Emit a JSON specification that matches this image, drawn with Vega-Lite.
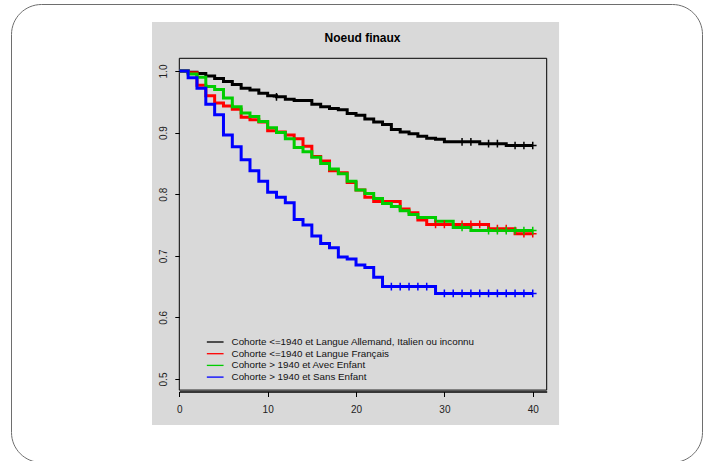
{
  "$schema": "https://vega.github.io/schema/vega-lite/v6.json",
  "width": 691,
  "height": 458,
  "autosize": {"type": "none"},
  "padding": {"left": 11, "top": 4, "right": 11, "bottom": 0},
  "background": "white",
  "config": {
    "view": {"stroke": "#6e6e6e", "strokeWidth": 1, "cornerRadius": 30, "fill": "white"},
    "font": "Liberation Sans"
  },
  "title": {
    "text": "Noeud finaux",
    "fontSize": 12,
    "fontWeight": "bold",
    "font": "Liberation Sans",
    "color": "#000000",
    "anchor": "middle",
    "frame": "group",
    "baseline": "middle",
    "offset": 0,
    "dx": 6,
    "dy": 46
  },
  "datasets": {
    "curves": [
      {"g": "Cohorte <=1940 et Langue Allemand, Italien ou inconnu", "t": 0, "s": 1.0},
      {"g": "Cohorte <=1940 et Langue Allemand, Italien ou inconnu", "t": 1, "s": 0.998},
      {"g": "Cohorte <=1940 et Langue Allemand, Italien ou inconnu", "t": 2, "s": 0.996},
      {"g": "Cohorte <=1940 et Langue Allemand, Italien ou inconnu", "t": 3, "s": 0.992},
      {"g": "Cohorte <=1940 et Langue Allemand, Italien ou inconnu", "t": 4, "s": 0.988},
      {"g": "Cohorte <=1940 et Langue Allemand, Italien ou inconnu", "t": 5, "s": 0.983},
      {"g": "Cohorte <=1940 et Langue Allemand, Italien ou inconnu", "t": 6, "s": 0.978},
      {"g": "Cohorte <=1940 et Langue Allemand, Italien ou inconnu", "t": 7, "s": 0.972},
      {"g": "Cohorte <=1940 et Langue Allemand, Italien ou inconnu", "t": 8, "s": 0.969},
      {"g": "Cohorte <=1940 et Langue Allemand, Italien ou inconnu", "t": 9, "s": 0.964},
      {"g": "Cohorte <=1940 et Langue Allemand, Italien ou inconnu", "t": 10, "s": 0.960},
      {"g": "Cohorte <=1940 et Langue Allemand, Italien ou inconnu", "t": 11, "s": 0.958},
      {"g": "Cohorte <=1940 et Langue Allemand, Italien ou inconnu", "t": 12, "s": 0.954},
      {"g": "Cohorte <=1940 et Langue Allemand, Italien ou inconnu", "t": 13, "s": 0.952},
      {"g": "Cohorte <=1940 et Langue Allemand, Italien ou inconnu", "t": 15, "s": 0.946},
      {"g": "Cohorte <=1940 et Langue Allemand, Italien ou inconnu", "t": 16, "s": 0.942},
      {"g": "Cohorte <=1940 et Langue Allemand, Italien ou inconnu", "t": 17, "s": 0.939},
      {"g": "Cohorte <=1940 et Langue Allemand, Italien ou inconnu", "t": 18, "s": 0.937},
      {"g": "Cohorte <=1940 et Langue Allemand, Italien ou inconnu", "t": 19, "s": 0.931},
      {"g": "Cohorte <=1940 et Langue Allemand, Italien ou inconnu", "t": 20, "s": 0.928},
      {"g": "Cohorte <=1940 et Langue Allemand, Italien ou inconnu", "t": 21, "s": 0.922},
      {"g": "Cohorte <=1940 et Langue Allemand, Italien ou inconnu", "t": 22, "s": 0.917},
      {"g": "Cohorte <=1940 et Langue Allemand, Italien ou inconnu", "t": 23, "s": 0.913},
      {"g": "Cohorte <=1940 et Langue Allemand, Italien ou inconnu", "t": 24, "s": 0.905},
      {"g": "Cohorte <=1940 et Langue Allemand, Italien ou inconnu", "t": 25, "s": 0.901},
      {"g": "Cohorte <=1940 et Langue Allemand, Italien ou inconnu", "t": 26, "s": 0.898},
      {"g": "Cohorte <=1940 et Langue Allemand, Italien ou inconnu", "t": 27, "s": 0.894},
      {"g": "Cohorte <=1940 et Langue Allemand, Italien ou inconnu", "t": 28, "s": 0.891},
      {"g": "Cohorte <=1940 et Langue Allemand, Italien ou inconnu", "t": 29, "s": 0.889},
      {"g": "Cohorte <=1940 et Langue Allemand, Italien ou inconnu", "t": 30, "s": 0.885},
      {"g": "Cohorte <=1940 et Langue Allemand, Italien ou inconnu", "t": 34, "s": 0.882},
      {"g": "Cohorte <=1940 et Langue Allemand, Italien ou inconnu", "t": 37, "s": 0.879},
      {"g": "Cohorte <=1940 et Langue Allemand, Italien ou inconnu", "t": 40, "s": 0.879},
      {"g": "Cohorte <=1940 et Langue Français", "t": 0, "s": 1.0},
      {"g": "Cohorte <=1940 et Langue Français", "t": 1, "s": 0.997},
      {"g": "Cohorte <=1940 et Langue Français", "t": 2, "s": 0.977},
      {"g": "Cohorte <=1940 et Langue Français", "t": 3, "s": 0.960},
      {"g": "Cohorte <=1940 et Langue Français", "t": 4, "s": 0.948},
      {"g": "Cohorte <=1940 et Langue Français", "t": 5, "s": 0.943},
      {"g": "Cohorte <=1940 et Langue Français", "t": 6, "s": 0.938},
      {"g": "Cohorte <=1940 et Langue Français", "t": 7, "s": 0.925},
      {"g": "Cohorte <=1940 et Langue Français", "t": 8, "s": 0.921},
      {"g": "Cohorte <=1940 et Langue Français", "t": 9, "s": 0.917},
      {"g": "Cohorte <=1940 et Langue Français", "t": 10, "s": 0.903},
      {"g": "Cohorte <=1940 et Langue Français", "t": 11, "s": 0.901},
      {"g": "Cohorte <=1940 et Langue Français", "t": 12, "s": 0.896},
      {"g": "Cohorte <=1940 et Langue Français", "t": 13, "s": 0.890},
      {"g": "Cohorte <=1940 et Langue Français", "t": 14, "s": 0.878},
      {"g": "Cohorte <=1940 et Langue Français", "t": 15, "s": 0.861},
      {"g": "Cohorte <=1940 et Langue Français", "t": 16, "s": 0.854},
      {"g": "Cohorte <=1940 et Langue Français", "t": 17, "s": 0.838},
      {"g": "Cohorte <=1940 et Langue Français", "t": 18, "s": 0.835},
      {"g": "Cohorte <=1940 et Langue Français", "t": 19, "s": 0.819},
      {"g": "Cohorte <=1940 et Langue Français", "t": 20, "s": 0.807},
      {"g": "Cohorte <=1940 et Langue Français", "t": 21, "s": 0.795},
      {"g": "Cohorte <=1940 et Langue Français", "t": 22, "s": 0.788},
      {"g": "Cohorte <=1940 et Langue Français", "t": 25, "s": 0.776},
      {"g": "Cohorte <=1940 et Langue Français", "t": 26, "s": 0.770},
      {"g": "Cohorte <=1940 et Langue Français", "t": 27, "s": 0.758},
      {"g": "Cohorte <=1940 et Langue Français", "t": 28, "s": 0.751},
      {"g": "Cohorte <=1940 et Langue Français", "t": 35, "s": 0.744},
      {"g": "Cohorte <=1940 et Langue Français", "t": 38, "s": 0.736},
      {"g": "Cohorte <=1940 et Langue Français", "t": 40, "s": 0.736},
      {"g": "Cohorte > 1940 et Avec Enfant", "t": 0, "s": 1.0},
      {"g": "Cohorte > 1940 et Avec Enfant", "t": 1, "s": 0.995},
      {"g": "Cohorte > 1940 et Avec Enfant", "t": 2, "s": 0.990},
      {"g": "Cohorte > 1940 et Avec Enfant", "t": 3, "s": 0.975},
      {"g": "Cohorte > 1940 et Avec Enfant", "t": 4, "s": 0.970},
      {"g": "Cohorte > 1940 et Avec Enfant", "t": 5, "s": 0.956},
      {"g": "Cohorte > 1940 et Avec Enfant", "t": 6, "s": 0.942},
      {"g": "Cohorte > 1940 et Avec Enfant", "t": 7, "s": 0.932},
      {"g": "Cohorte > 1940 et Avec Enfant", "t": 8, "s": 0.926},
      {"g": "Cohorte > 1940 et Avec Enfant", "t": 9, "s": 0.918},
      {"g": "Cohorte > 1940 et Avec Enfant", "t": 10, "s": 0.908},
      {"g": "Cohorte > 1940 et Avec Enfant", "t": 11, "s": 0.900},
      {"g": "Cohorte > 1940 et Avec Enfant", "t": 12, "s": 0.890},
      {"g": "Cohorte > 1940 et Avec Enfant", "t": 13, "s": 0.876},
      {"g": "Cohorte > 1940 et Avec Enfant", "t": 14, "s": 0.869},
      {"g": "Cohorte > 1940 et Avec Enfant", "t": 15, "s": 0.860},
      {"g": "Cohorte > 1940 et Avec Enfant", "t": 16, "s": 0.850},
      {"g": "Cohorte > 1940 et Avec Enfant", "t": 17, "s": 0.841},
      {"g": "Cohorte > 1940 et Avec Enfant", "t": 18, "s": 0.833},
      {"g": "Cohorte > 1940 et Avec Enfant", "t": 19, "s": 0.821},
      {"g": "Cohorte > 1940 et Avec Enfant", "t": 20, "s": 0.807},
      {"g": "Cohorte > 1940 et Avec Enfant", "t": 21, "s": 0.801},
      {"g": "Cohorte > 1940 et Avec Enfant", "t": 22, "s": 0.793},
      {"g": "Cohorte > 1940 et Avec Enfant", "t": 23, "s": 0.785},
      {"g": "Cohorte > 1940 et Avec Enfant", "t": 24, "s": 0.780},
      {"g": "Cohorte > 1940 et Avec Enfant", "t": 25, "s": 0.773},
      {"g": "Cohorte > 1940 et Avec Enfant", "t": 26, "s": 0.767},
      {"g": "Cohorte > 1940 et Avec Enfant", "t": 27, "s": 0.762},
      {"g": "Cohorte > 1940 et Avec Enfant", "t": 29, "s": 0.756},
      {"g": "Cohorte > 1940 et Avec Enfant", "t": 31, "s": 0.746},
      {"g": "Cohorte > 1940 et Avec Enfant", "t": 33, "s": 0.741},
      {"g": "Cohorte > 1940 et Avec Enfant", "t": 40, "s": 0.741},
      {"g": "Cohorte > 1940 et Sans Enfant", "t": 0, "s": 1.0},
      {"g": "Cohorte > 1940 et Sans Enfant", "t": 1, "s": 0.989},
      {"g": "Cohorte > 1940 et Sans Enfant", "t": 2, "s": 0.972},
      {"g": "Cohorte > 1940 et Sans Enfant", "t": 3, "s": 0.946},
      {"g": "Cohorte > 1940 et Sans Enfant", "t": 4, "s": 0.929},
      {"g": "Cohorte > 1940 et Sans Enfant", "t": 5, "s": 0.896},
      {"g": "Cohorte > 1940 et Sans Enfant", "t": 6, "s": 0.877},
      {"g": "Cohorte > 1940 et Sans Enfant", "t": 7, "s": 0.856},
      {"g": "Cohorte > 1940 et Sans Enfant", "t": 8, "s": 0.838},
      {"g": "Cohorte > 1940 et Sans Enfant", "t": 9, "s": 0.821},
      {"g": "Cohorte > 1940 et Sans Enfant", "t": 10, "s": 0.803},
      {"g": "Cohorte > 1940 et Sans Enfant", "t": 11, "s": 0.795},
      {"g": "Cohorte > 1940 et Sans Enfant", "t": 12, "s": 0.786},
      {"g": "Cohorte > 1940 et Sans Enfant", "t": 13, "s": 0.759},
      {"g": "Cohorte > 1940 et Sans Enfant", "t": 14, "s": 0.750},
      {"g": "Cohorte > 1940 et Sans Enfant", "t": 15, "s": 0.732},
      {"g": "Cohorte > 1940 et Sans Enfant", "t": 16, "s": 0.720},
      {"g": "Cohorte > 1940 et Sans Enfant", "t": 17, "s": 0.713},
      {"g": "Cohorte > 1940 et Sans Enfant", "t": 18, "s": 0.698},
      {"g": "Cohorte > 1940 et Sans Enfant", "t": 19, "s": 0.695},
      {"g": "Cohorte > 1940 et Sans Enfant", "t": 20, "s": 0.685},
      {"g": "Cohorte > 1940 et Sans Enfant", "t": 21, "s": 0.681},
      {"g": "Cohorte > 1940 et Sans Enfant", "t": 22, "s": 0.665},
      {"g": "Cohorte > 1940 et Sans Enfant", "t": 23, "s": 0.650},
      {"g": "Cohorte > 1940 et Sans Enfant", "t": 29, "s": 0.639},
      {"g": "Cohorte > 1940 et Sans Enfant", "t": 40, "s": 0.639}
    ],
    "censor": [
      {"g": "Cohorte <=1940 et Langue Allemand, Italien ou inconnu", "t": 11, "s": 0.958},
      {"g": "Cohorte <=1940 et Langue Allemand, Italien ou inconnu", "t": 32, "s": 0.885},
      {"g": "Cohorte <=1940 et Langue Allemand, Italien ou inconnu", "t": 33, "s": 0.885},
      {"g": "Cohorte <=1940 et Langue Allemand, Italien ou inconnu", "t": 35, "s": 0.882},
      {"g": "Cohorte <=1940 et Langue Allemand, Italien ou inconnu", "t": 36, "s": 0.882},
      {"g": "Cohorte <=1940 et Langue Allemand, Italien ou inconnu", "t": 38, "s": 0.879},
      {"g": "Cohorte <=1940 et Langue Allemand, Italien ou inconnu", "t": 39, "s": 0.879},
      {"g": "Cohorte <=1940 et Langue Allemand, Italien ou inconnu", "t": 40, "s": 0.879},
      {"g": "Cohorte <=1940 et Langue Français", "t": 29, "s": 0.751},
      {"g": "Cohorte <=1940 et Langue Français", "t": 30, "s": 0.751},
      {"g": "Cohorte <=1940 et Langue Français", "t": 32, "s": 0.751},
      {"g": "Cohorte <=1940 et Langue Français", "t": 33, "s": 0.751},
      {"g": "Cohorte <=1940 et Langue Français", "t": 34, "s": 0.751},
      {"g": "Cohorte <=1940 et Langue Français", "t": 36, "s": 0.744},
      {"g": "Cohorte <=1940 et Langue Français", "t": 37, "s": 0.744},
      {"g": "Cohorte <=1940 et Langue Français", "t": 39, "s": 0.736},
      {"g": "Cohorte <=1940 et Langue Français", "t": 40, "s": 0.736},
      {"g": "Cohorte > 1940 et Avec Enfant", "t": 32, "s": 0.746},
      {"g": "Cohorte > 1940 et Avec Enfant", "t": 35, "s": 0.741},
      {"g": "Cohorte > 1940 et Avec Enfant", "t": 36, "s": 0.741},
      {"g": "Cohorte > 1940 et Avec Enfant", "t": 37, "s": 0.741},
      {"g": "Cohorte > 1940 et Avec Enfant", "t": 38, "s": 0.741},
      {"g": "Cohorte > 1940 et Avec Enfant", "t": 39, "s": 0.741},
      {"g": "Cohorte > 1940 et Avec Enfant", "t": 40, "s": 0.741},
      {"g": "Cohorte > 1940 et Sans Enfant", "t": 24, "s": 0.650},
      {"g": "Cohorte > 1940 et Sans Enfant", "t": 25, "s": 0.650},
      {"g": "Cohorte > 1940 et Sans Enfant", "t": 26, "s": 0.650},
      {"g": "Cohorte > 1940 et Sans Enfant", "t": 27, "s": 0.650},
      {"g": "Cohorte > 1940 et Sans Enfant", "t": 28, "s": 0.650},
      {"g": "Cohorte > 1940 et Sans Enfant", "t": 30, "s": 0.639},
      {"g": "Cohorte > 1940 et Sans Enfant", "t": 31, "s": 0.639},
      {"g": "Cohorte > 1940 et Sans Enfant", "t": 32, "s": 0.639},
      {"g": "Cohorte > 1940 et Sans Enfant", "t": 33, "s": 0.639},
      {"g": "Cohorte > 1940 et Sans Enfant", "t": 34, "s": 0.639},
      {"g": "Cohorte > 1940 et Sans Enfant", "t": 35, "s": 0.639},
      {"g": "Cohorte > 1940 et Sans Enfant", "t": 36, "s": 0.639},
      {"g": "Cohorte > 1940 et Sans Enfant", "t": 37, "s": 0.639},
      {"g": "Cohorte > 1940 et Sans Enfant", "t": 38, "s": 0.639},
      {"g": "Cohorte > 1940 et Sans Enfant", "t": 39, "s": 0.639},
      {"g": "Cohorte > 1940 et Sans Enfant", "t": 40, "s": 0.639}
    ]
  },
  "layer": [
    {
      "data": {"values": [{}]},
      "mark": {"type": "rect", "fill": "#d9d9d9", "strokeWidth": 0},
      "encoding": {
        "x": {
          "datum": -3.09, "type": "quantitative",
          "scale": {"domain": [0, 41.58], "range": [168.3, 535.7], "nice": false, "zero": false},
          "axis": {"title": null, "values": [0, 10, 20, 30, 40], "offset": -70.5, "zindex": 2, "domain": true, "domainColor": "#000000", "domainWidth": 1.5, "ticks": true, "tickColor": "#000000", "tickSize": 5, "tickWidth": 1, "labelFontSize": 10, "labelFont": "Liberation Sans", "labelColor": "#222222", "labelPadding": 8, "grid": false, "labelFlush": false, "labelOverlap": false}
        },
        "x2": {"datum": 42.98},
        "y": {
          "datum": 0.4253, "type": "quantitative",
          "scale": {"domain": [0.482, 1.0206], "range": [386.1, 54.3], "nice": false, "zero": false},
          "axis": {"title": null, "values": [0.5, 0.6, 0.7, 0.8, 0.9, 1.0], "format": ".1f", "offset": -168.3, "zindex": 2, "domain": false, "ticks": true, "tickColor": "#000000", "tickSize": 4.5, "tickWidth": 1, "labelAngle": -90, "labelAlign": "center", "labelBaseline": "middle", "labelFontSize": 10, "labelFont": "Liberation Sans", "labelColor": "#222222", "labelPadding": 11.5, "grid": false, "labelFlush": false, "labelOverlap": false}
        },
        "y2": {"datum": 1.0795}
      }
    },
    {
      "data": {"values": [{}]},
      "mark": {"type": "rect", "fill": null, "fillOpacity": 0, "stroke": "#000000", "strokeWidth": 1},
      "encoding": {
        "x": {"datum": 0, "type": "quantitative", "scale": {"domain": [0, 41.58], "range": [168.3, 535.7], "nice": false, "zero": false}},
        "x2": {"datum": 41.58},
        "y": {"datum": 0.482, "type": "quantitative", "scale": {"domain": [0.482, 1.0206], "range": [386.1, 54.3], "nice": false, "zero": false}},
        "y2": {"datum": 1.0206}
      }
    },
    {
      "data": {"name": "curves"},
      "mark": {"type": "line", "interpolate": "step-after", "strokeWidth": 3, "strokeJoin": "miter", "strokeCap": "butt"},
      "encoding": {
        "x": {"field": "t", "type": "quantitative", "scale": {"domain": [0, 41.58], "range": [168.3, 535.7], "nice": false, "zero": false}},
        "y": {"field": "s", "type": "quantitative", "scale": {"domain": [0.482, 1.0206], "range": [386.1, 54.3], "nice": false, "zero": false}},
        "color": {
          "field": "g", "type": "nominal",
          "scale": {
            "domain": ["Cohorte <=1940 et Langue Allemand, Italien ou inconnu", "Cohorte <=1940 et Langue Français", "Cohorte > 1940 et Avec Enfant", "Cohorte > 1940 et Sans Enfant"],
            "range": ["#000000", "#ff0000", "#00cd00", "#0000ff"]
          },
          "legend": {
            "orient": "none", "legendX": 199.2, "legendY": 333, "title": null,
            "symbolType": "M-2,0H2", "symbolSize": 70, "symbolStrokeWidth": 1.3,
            "labelFontSize": 9.8, "labelFont": "Liberation Sans", "labelColor": "#111111",
            "labelLimit": 400, "labelOffset": 11.4, "rowPadding": 1.7, "padding": 0
          }
        }
      }
    },
    {
      "data": {"name": "censor"},
      "mark": {"type": "point", "shape": "M0,-1V1M-1,0H1", "filled": false, "size": 59, "strokeWidth": 1.5, "opacity": 1},
      "encoding": {
        "x": {"field": "t", "type": "quantitative", "scale": {"domain": [0, 41.58], "range": [168.3, 535.7], "nice": false, "zero": false}},
        "y": {"field": "s", "type": "quantitative", "scale": {"domain": [0.482, 1.0206], "range": [386.1, 54.3], "nice": false, "zero": false}},
        "color": {"field": "g", "type": "nominal", "legend": null}
      }
    }
  ]
}
